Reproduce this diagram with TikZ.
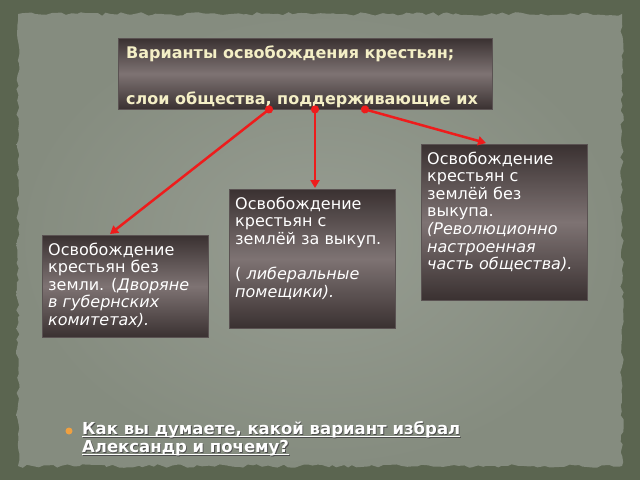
\documentclass[tikz,border=0pt]{standalone}
\usepackage{fontspec}
\setmainfont{DejaVu Sans}
\usetikzlibrary{arrows.meta,calc,decorations.pathmorphing}
\definecolor{framecol}{HTML}{5B6550}
\definecolor{paperin}{HTML}{979D92}
\definecolor{paperout}{HTML}{858C7F}
\definecolor{boxdark}{HTML}{3A3131}
\definecolor{boxmid}{HTML}{7E7373}
\definecolor{boxedge}{HTML}{5A5252}
\definecolor{cream}{HTML}{F4EFC6}
\definecolor{arrowred}{HTML}{EE1C1C}
\definecolor{bulletorange}{HTML}{F0A040}
\newcommand\bxt[3]{\parbox[t][#1pt][t]{#2pt}{#3}}
\newcommand\myul[1]{\setbox0\hbox{#1}\rlap{\rule[-2.6pt]{\wd0}{1.2pt}}\box0}
\begin{document}
\begin{tikzpicture}[x=1pt,y=-1pt,
  boxstyle/.style={anchor=north west, inner xsep=6pt, inner ysep=7.5pt,
    top color=boxdark, bottom color=boxdark, middle color=boxmid,
    draw=boxedge, line width=0.4pt, text=white,
    font=\fontsize{16}{17.6}\selectfont},
  topstyle/.style={boxstyle, inner xsep=8pt, text=cream,
    font=\fontsize{16}{23}\selectfont\bfseries},
  link/.style={draw=arrowred, line width=2.5pt,
    {Circle[length=8pt,width=8pt]}-{Triangle[length=8pt,width=9pt]}, shorten <=-4pt}]
\useasboundingbox (0,0) rectangle (640,480);
\fill[framecol] (0,0) rectangle (640,480);
\pgfmathsetseed{11}
\shade[decorate, decoration={random steps, segment length=5pt, amplitude=1.8pt},
  inner color=paperin, outer color=paperout] (18,14) rectangle (622,466);

% top box
\node[topstyle] (top) at (118,38) {\bxt{56}{358}{Варианты освобождения крестьян;\\ \mbox{}\\ слои общества, поддерживающие их}};

% boxes
\node[boxstyle] (rbox) at (421,144) {\bxt{141}{154}{Освобождение\\ крестьян с\\ землёй без\\ выкупа.\\ \textit{(Революционно\\ настроенная\\ часть общества).}}};
\node[boxstyle] (mbox) at (229,189) {\bxt{124}{154}{Освобождение\\ крестьян с\\ землёй за выкуп.\\ \mbox{}\\ ( \textit{либеральные\\ помещики).}}};
\node[boxstyle] (lbox) at (42,235) {\bxt{87}{154}{Освобождение\\ крестьян без\\ земли. (\textit{Дворяне\\ в губернских\\ комитетах).}}};

% connectors
\coordinate (d1) at ($(top.south west)+(151,0)$);
\coordinate (d2) at ($(top.south west)+(197,0)$);
\coordinate (d3) at ($(top.south west)+(247,0)$);
\coordinate (e1) at ($(lbox.north west)+(68,-1)$);
\coordinate (e2) at ($(mbox.north west)+(86,-1)$);
\coordinate (e3) at ($(rbox.north west)+(65,-1)$);
\draw[link] (d1) -- (e1);
\draw[link] (d2) -- (e2);
\draw[link] (d3) -- (e3);

% question
\node[circle, fill=bulletorange, inner sep=0pt, minimum size=7pt] (bullet) at (69,431) {};
\node[anchor=north west, inner sep=0pt, text=black!70, font=\fontsize{16.5}{18}\selectfont\bfseries, align=left] (qshadow) at (82.8,422.3) {\myul{Как вы думаете, какой вариант избрал}\\ \myul{Александр и почему?}};
\node[anchor=north west, inner sep=0pt, text=white, font=\fontsize{16.5}{18}\selectfont\bfseries, align=left] (question) at (82,421.5) {\myul{Как вы думаете, какой вариант избрал}\\ \myul{Александр и почему?}};
\end{tikzpicture}
\end{document}
